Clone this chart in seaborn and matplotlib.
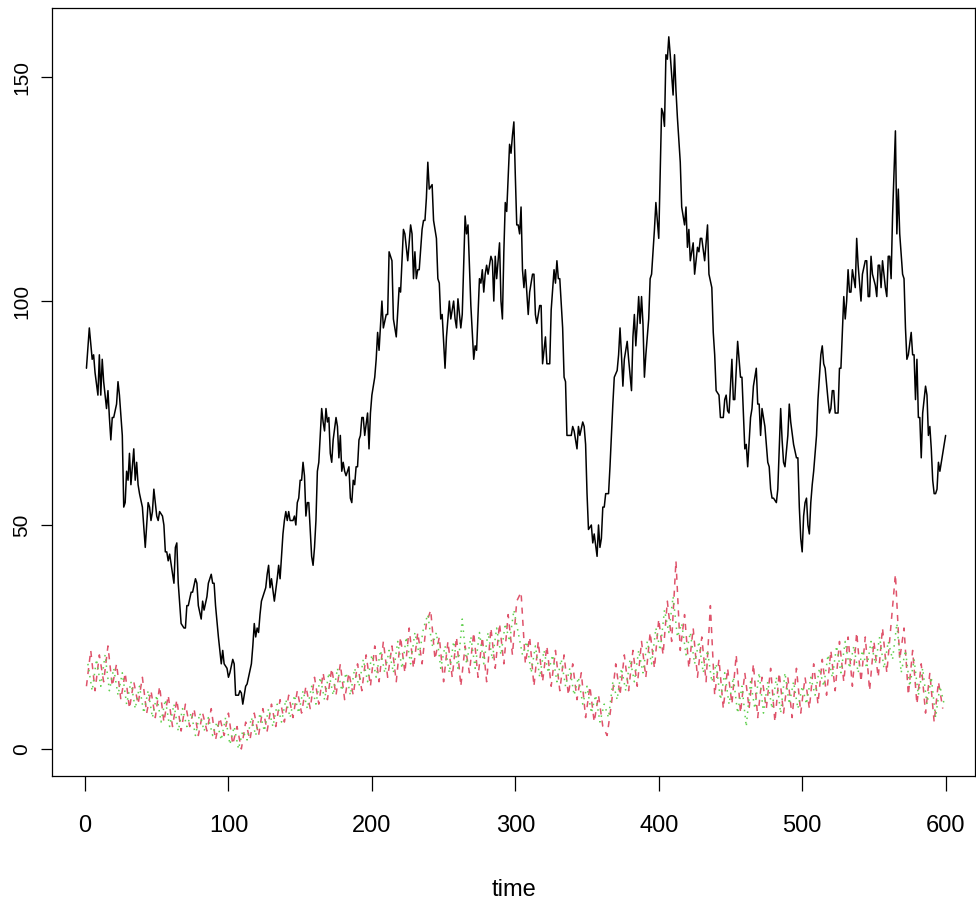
import numpy as np
import pandas as pd
import seaborn as sns
import matplotlib.pyplot as plt

# Black series: (time, value) pairs
black_t = [1, 3, 5, 6, 7, 9, 10, 11, 12, 13, 15, 16, 17, 18, 19, 20, 22, 23, 24, 26,
           27, 28, 29, 30, 31, 32, 34, 35, 36, 37, 38, 40, 42, 43, 44, 45, 46, 47, 48, 50,
           51, 52, 54, 55, 56, 57, 58, 59, 62, 63, 64, 65, 67, 69, 70, 71, 72, 74, 75, 77,
           78, 79, 81, 82, 83, 85, 86, 88, 89, 90, 91, 93, 95, 96, 97, 99, 100, 101, 103, 104,
           105, 107, 108, 109, 110, 112, 113, 114, 116, 117, 118, 119, 120, 121, 122, 123, 124, 126, 127, 128,
           129, 130, 132, 134, 135, 136, 138, 139, 140, 141, 142, 143, 145, 146, 147, 148, 149, 150, 151, 152,
           153, 154, 155, 156, 157, 158, 159, 160, 161, 162, 163, 165, 166, 167, 168, 169, 170, 171, 172, 173,
           175, 176, 177, 178, 179, 180, 181, 182, 184, 185, 186, 187, 188, 189, 190, 191, 192, 193, 194, 195,
           197, 198, 199, 200, 202, 203, 204, 205, 207, 208, 210, 211, 212, 214, 215, 217, 219, 220, 222, 223,
           225, 227, 228, 229, 230, 231, 232, 233, 235, 236, 237, 238, 239, 240, 242, 243, 245, 246, 247, 248,
           249, 251, 252, 254, 255, 257, 258, 259, 260, 262, 263, 265, 266, 267, 268, 269, 271, 272, 273, 275,
           276, 277, 278, 279, 280, 281, 283, 284, 285, 286, 287, 289, 290, 291, 292, 293, 294, 296, 297, 298,
           299, 300, 301, 302, 303, 304, 305, 306, 307, 309, 310, 312, 313, 314, 315, 317, 318, 319, 321, 322,
           324, 325, 327, 328, 329, 330, 331, 333, 334, 335, 336, 337, 339, 340, 341, 343, 344, 345, 347, 348,
           349, 350, 351, 353, 354, 355, 357, 358, 359, 360, 361, 362, 363, 365, 366, 367, 368, 369, 371, 372,
           373, 374, 375, 376, 378, 379, 381, 382, 383, 384, 385, 386, 387, 388, 389, 390, 391, 393, 394, 395,
           397, 398, 400, 401, 402, 403, 404, 405, 406, 407, 408, 410, 411, 412, 413, 415, 416, 418, 419, 420,
           421, 422, 424, 425, 427, 428, 429, 430, 432, 434, 435, 437, 438, 439, 440, 442, 443, 445, 446, 447,
           448, 449, 451, 452, 453, 455, 457, 458, 460, 461, 462, 464, 465, 466, 468, 469, 470, 471, 472, 474,
           476, 477, 478, 479, 480, 482, 483, 485, 486, 487, 488, 490, 491, 492, 494, 496, 497, 498, 499, 500,
           501, 502, 503, 504, 505, 506, 507, 508, 510, 511, 513, 514, 515, 516, 518, 519, 520, 521, 522, 523,
           525, 526, 527, 529, 530, 531, 532, 533, 534, 535, 537, 538, 539, 541, 542, 544, 545, 546, 547, 548,
           549, 551, 552, 553, 554, 555, 556, 557, 558, 559, 560, 561, 562, 563, 565, 566, 567, 568, 570, 571,
           572, 573, 574, 576, 577, 578, 579, 580, 581, 582, 583, 584, 586, 587, 588, 589, 590, 591, 592, 593,
           594, 595, 596, 598, 599, 600]
black_v = [85, 94, 87, 88, 84, 79, 88, 79, 87, 82, 76, 80, 74, 69, 74, 74, 77, 82, 79, 70,
           54, 55, 62, 60, 66, 59, 67, 60, 64, 59, 57, 54, 45, 50, 55, 54, 51, 53, 58, 52,
           51, 53, 52, 50, 44, 44, 42, 43.5, 37, 45, 46, 37, 28, 27, 27, 32, 32, 35, 35, 38,
           37, 32, 29, 33, 31, 34, 37, 39, 37, 37, 32, 25, 19, 22, 19, 18, 16, 17, 20, 19,
           12, 12, 13, 12.5, 10, 14, 14.5, 16, 19, 23, 28, 25, 27, 26, 30, 33, 34, 36, 39, 41,
           36, 38, 33, 38, 41, 38, 48, 51, 53, 51, 53, 51, 51, 52, 50, 55, 56, 60, 60, 64,
           61, 52, 55, 55, 49, 43, 41, 45, 51, 62, 64, 76, 73, 71, 76, 73, 74, 66, 64, 69,
           74, 72, 65, 70, 62, 64, 62, 61, 63, 56, 55, 60, 59, 63, 63, 69, 70, 74, 74, 70,
           75, 67, 75, 79, 83, 87, 93, 89, 100, 94, 97, 97, 111, 109, 96, 92, 103, 102, 116, 115,
           109, 117, 115, 105, 111, 105, 107, 107, 116, 118, 118, 123, 131, 125, 126, 118, 114, 105, 104, 96,
           97, 85, 92, 100, 96, 100, 96, 94, 100.5, 94, 97, 119, 115, 117, 108, 99, 87, 90, 89, 105,
           104, 107, 102, 106, 108, 106, 110, 109, 100, 110, 105, 113, 100, 96, 111, 122, 120, 135, 133, 137,
           140, 128, 117, 117, 115, 121, 107, 103, 107, 97, 102, 106, 106, 97, 95, 99, 99, 86, 92, 86,
           86, 98, 107, 104, 109, 105, 105, 94, 83, 82, 70, 70, 70, 72, 71, 67, 72, 70, 73, 72,
           68, 57, 49, 50, 46, 48, 43, 50, 45, 47, 54, 54, 57, 57, 63, 70, 77, 83, 84.5, 88,
           94, 88, 81, 87, 91, 87, 80, 92, 97, 90, 95, 101, 95, 101, 95, 83, 88, 96, 105, 106,
           116, 122, 114, 128, 143, 142, 139, 155, 154, 159, 155, 146, 155, 147, 141, 131, 121, 117, 121, 112,
           116, 109, 113, 106, 112, 111, 114, 114, 109, 117, 106, 103, 93, 88, 80, 79, 74, 74, 78, 79,
           75.5, 75, 87, 78, 78, 91, 83, 83, 67, 68, 63, 74, 76, 81, 85, 77, 77, 70, 76, 72,
           64, 63, 58, 56, 56, 55, 58, 76, 69, 64, 63, 70, 77, 73, 68, 65, 65, 54, 47, 44,
           52, 55, 56, 50, 48, 55, 59, 62, 70, 78, 88, 90, 86, 85, 78, 75, 76, 80, 80, 75,
           75, 85, 85, 101, 96, 100, 107, 102, 102, 107, 103, 114, 108, 100, 106, 109, 109, 101, 101, 110,
           106, 103.5, 101, 108, 108, 103, 109, 106, 103, 101, 110, 110, 105, 119, 138, 115, 125, 115, 106, 105,
           94, 87, 88, 93, 88, 88, 78, 87, 74, 74, 65, 75, 81, 79, 70, 72, 67, 60, 57, 57,
           58, 64, 62, 66, 68, 70]

# Red dashed series, every 3rd time step from t = 1
red_v = [14, 22, 13, 21, 15, 23, 14, 19, 11, 17, 9, 15, 10, 16, 8, 13, 7, 14, 6, 12,
         5, 11, 4, 10, 5, 9, 3, 8, 4, 9, 2, 7, 3, 8, 1, 5, 0, 6, 2, 8,
         3, 9, 4, 10, 5, 11, 6, 12, 7, 13, 8, 14, 9, 16, 10, 17, 11, 18, 12, 19,
         11, 17, 12, 19, 13, 21, 14, 23, 15, 24, 16, 23, 15, 25, 17, 27, 18, 26, 19, 28,
         31, 20, 25, 15, 24, 16, 25, 14, 23, 17, 26, 16, 25, 15, 27, 18, 28, 19, 30, 21,
         33, 35, 19, 25, 14, 24, 15, 23, 14, 22, 13, 21, 12, 19, 11, 17, 7, 14, 6, 12,
         5, 3, 10, 19, 12, 21, 13, 22, 14, 24, 16, 26, 18, 29, 21, 33, 24, 42, 22, 30,
         18, 27, 16, 25, 15, 32, 12, 20, 9, 18, 10, 21, 8, 17, 9, 19, 7, 16, 9, 18,
         6, 17, 8, 16, 7, 18, 8, 16, 9, 19, 10, 20, 12, 22, 13, 24, 15, 25, 14, 26,
         15, 25, 13, 24, 16, 27, 17, 28, 39, 20, 27, 12, 22, 10, 19, 8, 17, 6, 15, 9]
red_t = np.arange(1, 1 + 3 * len(red_v), 3)

# Green dotted series, every 3rd time step from t = 2
green_v = [19, 13, 20, 14, 21, 13, 18, 12, 17, 10, 15, 9, 14, 8, 13, 7, 12, 6, 11, 5,
           10, 4, 9, 5, 8, 3, 8, 4, 7, 3, 6, 2, 7, 1, 5, 0, 4, 2, 7, 3,
           8, 4, 9, 5, 10, 6, 11, 7, 12, 8, 13, 9, 14, 10, 16, 11, 17, 12, 18, 13,
           17, 12, 18, 14, 20, 15, 21, 16, 22, 17, 22, 17, 24, 18, 25, 19, 26, 21, 27, 30,
           23, 26, 18, 23, 17, 24, 18, 29, 19, 25, 18, 26, 19, 26, 20, 27, 21, 28, 24, 31,
           26, 21, 24, 17, 23, 16, 22, 17, 21, 15, 20, 14, 18, 12, 16, 10, 14, 8, 12, 6,
           10, 7, 15, 11, 18, 13, 20, 15, 22, 17, 24, 19, 27, 22, 31, 26, 34, 25, 28, 21,
           26, 19, 24, 17, 22, 15, 19, 11, 17, 10, 16, 8, 14, 5, 15, 9, 17, 8, 15, 9,
           16, 8, 17, 10, 15, 9, 14, 10, 16, 12, 18, 14, 21, 16, 23, 17, 24, 18, 23, 17,
           22, 18, 24, 19, 25, 18, 24, 20, 28, 17, 22, 14, 20, 12, 18, 10, 16, 7, 14, 10]
green_t = np.arange(2, 2 + 3 * len(green_v), 3)

x_ticks = [0, 100, 200, 300, 400, 500, 600]
y_ticks = [0, 50, 100, 150]

black_df = pd.DataFrame({'time': black_t, 'value': black_v})
red_df = pd.DataFrame({'time': red_t, 'value': red_v})
green_df = pd.DataFrame({'time': green_t, 'value': green_v})

sns.set_style('white')
plt.rcParams['font.family'] = ['Liberation Sans', 'DejaVu Sans']
plt.rcParams['text.color'] = 'black'
plt.rcParams['xtick.color'] = 'black'
plt.rcParams['ytick.color'] = 'black'
plt.rcParams['axes.labelcolor'] = 'black'

fig, ax = plt.subplots(figsize=(9.76, 9.05), dpi=100)
fig.subplots_adjust(left=0.0533, right=0.999, bottom=0.1425, top=0.991)

sns.lineplot(data=black_df, x='time', y='value', color='black', linewidth=1.1, ax=ax)
sns.lineplot(data=red_df, x='time', y='value', color='#DF536B', linewidth=1.1,
             linestyle=(0, (4, 4)), ax=ax)
sns.lineplot(data=green_df, x='time', y='value', color='#61D04F', linewidth=1.1,
             linestyle=(0, (1, 3)), ax=ax)

ax.set_xlim(-23, 620.5)
ax.set_ylim(-6.05, 165.4)

for side in ['top', 'right', 'bottom', 'left']:
    ax.spines[side].set_visible(True)
    ax.spines[side].set_color('black')
    ax.spines[side].set_linewidth(0.9)

ax.set_xticks(x_ticks)
ax.set_yticks(y_ticks)
ax.set_xticklabels([str(v) for v in x_ticks], fontsize=17)
ax.set_yticklabels([str(v) for v in y_ticks], fontsize=15, rotation=90, va='center')
ax.tick_params(axis='x', direction='out', length=11, width=0.9, pad=17, bottom=True)
ax.tick_params(axis='y', direction='out', length=8, width=0.9, pad=7, left=True)

ax.set_xlabel('time', fontsize=17, labelpad=30)
ax.set_ylabel('')

fig.savefig('out.png', dpi=100)
